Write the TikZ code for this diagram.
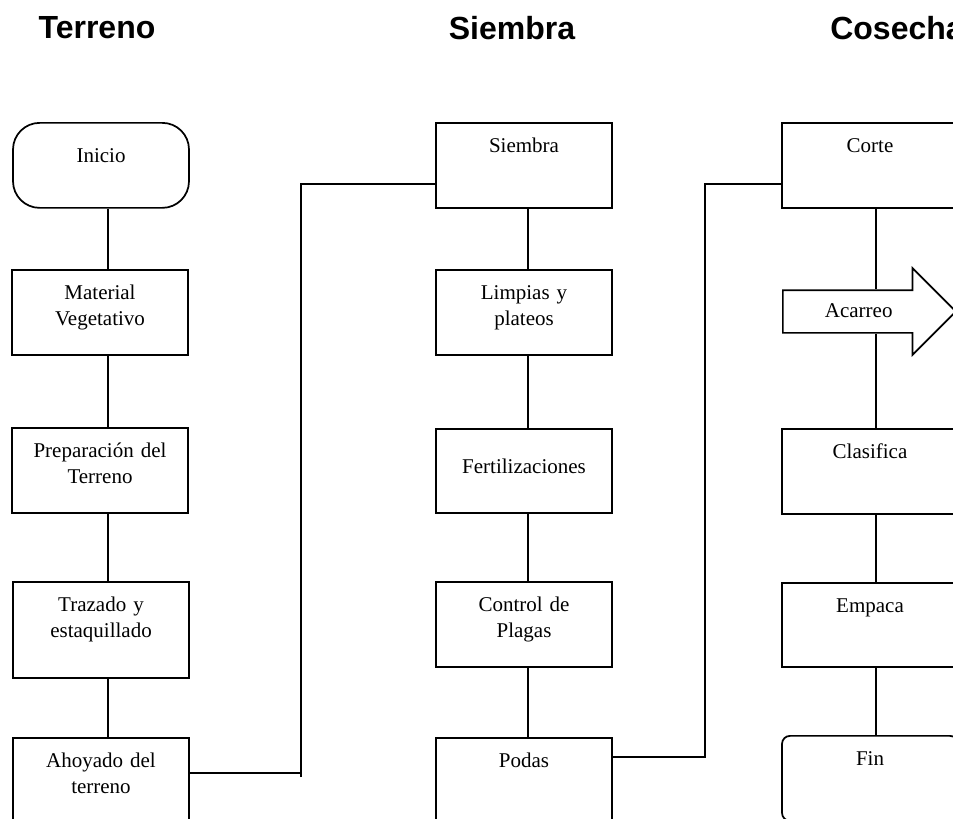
\documentclass[tikz,border=0pt]{standalone}
\usepackage{fontspec}
\setmainfont{Liberation Serif}
\newfontfamily\titulo{Liberation Sans}
\usetikzlibrary{shapes.arrows}

\tikzset{
  caja/.style={rectangle, draw, anchor=north, inner sep=0pt, minimum width=132pt,
    text width=132pt, align=center, text height=22.5pt, text depth=41.25pt,
    font=\fontsize{15.75pt}{19.5pt}\selectfont},
  encabezado/.style={font=\titulo\bfseries\fontsize{24pt}{28pt}\selectfont}
}

\begin{document}
\begin{tikzpicture}[x=0.75pt, y=-0.75pt, line width=1.3pt]

    \useasboundingbox (0,0) rectangle (953,818);
    \clip (0,0) rectangle (953,818);

    % Titulos
    \node (tterreno) [encabezado] at (97,28) {Terreno};
    \node (tsiembra) [encabezado] at (512,28) {Siembra};
    \node (tcosecha) [encabezado, anchor=west] at (825,28) {Cosecha};

    % Terreno
    \node (inicio) [caja, rounded corners=20pt, text height=30pt, text depth=33.75pt] at (101,122) {Inicio};
    \node (mat) [caja] at (100,269) {Material\\Vegetativo};
    \node (prep) [caja] at (100,427) {Preparación del\\Terreno};
    \node (traz) [caja, text depth=49.5pt] at (101,581) {Trazado y\\estaquillado};
    \node (ahoy) [caja] at (101,737) {Ahoyado del\\terreno};

    % Siembra
    \node (siem) [caja] at (524,122) {Siembra};
    \node (limp) [caja] at (524,269) {Limpias y\\plateos};
    \node (fert) [caja, text height=33.75pt, text depth=29.25pt] at (524,428) {Fertilizaciones};
    \node (ctrl) [caja] at (524,581) {Control de\\Plagas};
    \node (poda) [caja] at (524,737) {Podas};

    % Cosecha
    \node (corte) [caja] at (870,122) {Corte};
    \node (acar) [single arrow, draw, fill=white, anchor=tail, inner sep=0pt,
      text height=19.5pt, text depth=11.25pt, minimum height=129.75pt,
      single arrow head extend=16.5pt, single arrow tip angle=90,
      font=\fontsize{15.75pt}{19.5pt}\selectfont] at (782,311.5) {Acarreo};
    \node (clas) [caja] at (870,428) {Clasifica};
    \node (empa) [caja, text depth=40.5pt] at (870,582) {Empaca};
    \node (fin) [caja, rounded corners=6pt] at (870,735) {Fin};

    % Lineas verticales
    \coordinate (eje1) at (108,0);
    \coordinate (eje2) at (528,0);
    \coordinate (eje3) at (876,0);
    \draw (inicio.south -| eje1) -- (mat.north -| eje1);
    \draw (mat.south -| eje1) -- (prep.north -| eje1);
    \draw (prep.south -| eje1) -- (traz.north -| eje1);
    \draw (traz.south -| eje1) -- (ahoy.north -| eje1);
    \draw (siem.south -| eje2) -- (limp.north -| eje2);
    \draw (limp.south -| eje2) -- (fert.north -| eje2);
    \draw (fert.south -| eje2) -- (ctrl.north -| eje2);
    \draw (ctrl.south -| eje2) -- (poda.north -| eje2);
    \draw (corte.south -| eje3) -- (acar.north -| eje3);
    \draw (acar.south -| eje3) -- (clas.north -| eje3);
    \draw (clas.south -| eje3) -- (empa.north -| eje3);
    \draw (empa.south -| eje3) -- (fin.north -| eje3);

    % Enlaces entre columnas
    \coordinate (c0) at (301,777);
    \coordinate (c1) at (301,773);
    \coordinate (c2) at (301,184);
    \draw (ahoy.east |- c1) -- (c1);
    \draw (c0) -- (c2) -- (siem.west |- c2);
    \coordinate (c3) at (705,757);
    \coordinate (c4) at (705,184);
    \draw (poda.east |- c3) -- (c3) -- (c4) -- (corte.west |- c4);

\end{tikzpicture}
\end{document}
